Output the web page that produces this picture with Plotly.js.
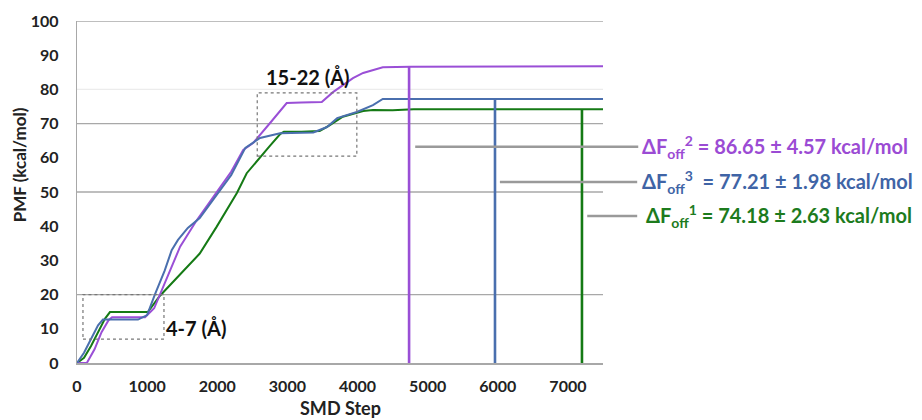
<!DOCTYPE html>
<html>
<head>
<meta charset="utf-8">
<script src="https://cdn.plot.ly/plotly-3.0.1.min.js"></script>
<style>html,body{margin:0;padding:0;background:#fff;}#chart{width:922px;height:420px;}</style>
</head>
<body>
<div id="chart"></div>
<script>
// ---- data ----
const greenX = [0, 100, 200, 300, 400, 470, 700, 1010, 1180, 1400, 1750, 1990, 2280, 2420, 2600, 2750, 2900, 2950, 3200, 3460, 3600, 3790, 4080, 4220, 4500, 4800, 6000, 7500];
const greenY = [0, 1.5, 5, 9, 13, 14.9, 14.9, 14.9, 19.6, 24.5, 32, 39.8, 49.7, 55.5, 60, 63.5, 67, 67.6, 67.6, 67.8, 69.5, 72, 73.7, 74, 73.9, 74.18, 74.18, 74.18];

const purpleX = [0, 140, 250, 350, 450, 500, 700, 970, 1100, 1180, 1470, 1700, 1990, 2200, 2370, 2510, 2750, 2990, 3200, 3490, 3650, 3935, 4080, 4360, 4750, 5500, 6500, 7500];
const purpleY = [0, 0, 4, 9, 12.5, 13.4, 13.4, 13.4, 16, 20, 34, 41.5, 49.7, 56, 62.3, 64.3, 70.1, 76, 76.2, 76.3, 79.2, 83.3, 84.8, 86.5, 86.65, 86.65, 86.8, 86.8];

const blueX = [0, 100, 200, 300, 370, 500, 700, 870, 1000, 1110, 1250, 1350, 1440, 1580, 1750, 1970, 2200, 2400, 2610, 2895, 3100, 3370, 3565, 3710, 3990, 4220, 4360, 4500, 5000, 6000, 7000, 7500];
const blueY = [0, 3, 7, 11, 12.7, 12.7, 12.7, 12.7, 14, 20, 27, 33, 36, 39.5, 42.4, 48.5, 55, 62.9, 65.8, 67.2, 67.2, 67.4, 69, 71.6, 73.4, 75.4, 77.2, 77.2, 77.2, 77.2, 77.2, 77.2];

// final-value markers (vertical lines) : step position and ΔF value
const dropSteps = [7200, 4735, 5960];          // series 1 (green), 2 (purple), 3 (blue)
const dropValues = [74.18, 86.65, 77.21];

const labelTexts = [
  'ΔF<sub>off</sub><sup>1</sup> = 74.18 ± 2.63 kcal/mol',
  'ΔF<sub>off</sub><sup>2</sup> = 86.65 ± 4.57 kcal/mol',
  'ΔF<sub>off</sub><sup>3</sup>  = 77.21 ± 1.98 kcal/mol'
];

const yTicks = [0, 10, 20, 30, 40, 50, 60, 70, 80, 90, 100];
const xTicks = [0, 1000, 2000, 3000, 4000, 5000, 6000, 7000];
const gridValues = [20, 50, 70, 100];
const faintGridValues = [80];

// ---- styles ----
const cGreen = '#157a15', cPurple = '#9a4fd6', cBlue = '#4a6fae';
const tGreen = '#1d7b1d', tPurple = '#9b4bd4', tBlue = '#3f64a6';
const FONT = 'Lato, "Open Sans", "DejaVu Sans", sans-serif';

const traces = [
  {x: greenX, y: greenY, mode: 'lines', line: {color: cGreen, width: 2}},
  {x: purpleX, y: purpleY, mode: 'lines', line: {color: cPurple, width: 2}},
  {x: blueX, y: blueY, mode: 'lines', line: {color: cBlue, width: 2}},
];
const dropColors = [cGreen, cPurple, cBlue];
dropSteps.forEach((s, i) => {
  traces.push({x: [s, s], y: [0, dropValues[i]], mode: 'lines', line: {color: dropColors[i], width: 2.6}});
});

const shapes = [];
gridValues.forEach(v => shapes.push({type: 'line', xref: 'paper', yref: 'y', x0: 0, x1: 1, y0: v, y1: v, line: {color: '#a8a8a8', width: 1.3}, layer: 'below'}));
faintGridValues.forEach(v => shapes.push({type: 'line', xref: 'paper', yref: 'y', x0: 0, x1: 1, y0: v, y1: v, line: {color: '#ececec', width: 1.3}, layer: 'below'}));
// dotted boxes
shapes.push({type: 'rect', xref: 'x', yref: 'y', x0: 85, x1: 1240, y0: 7, y1: 20, line: {color: '#777', width: 1.2, dash: 'dot'}});
shapes.push({type: 'rect', xref: 'x', yref: 'y', x0: 2570, x1: 3990, y0: 60.5, y1: 79, line: {color: '#777', width: 1.2, dash: 'dot'}});
// leader lines (paper coords)
const leaders = [
  {x0: 0.970, x1: 1.065, y: 0.430},
  {x0: 0.643, x1: 1.067, y: 0.632},
  {x0: 0.804, x1: 1.065, y: 0.529}
];
leaders.forEach(l => shapes.push({type: 'line', xref: 'paper', yref: 'paper', x0: l.x0, x1: l.x1, y0: l.y, y1: l.y, line: {color: '#9a9a9a', width: 2.5}}));

const labelColors = [tGreen, tPurple, tBlue];
const labelX = [1.077, 1.070, 1.070];
const annotations = labelTexts.map((t, i) => ({
  xref: 'paper', yref: 'paper', x: labelX[i], y: leaders[i].y, xanchor: 'left', yanchor: 'middle',
  text: t, showarrow: false, font: {family: FONT, size: 20, color: labelColors[i], weight: 700}
}));
annotations.push({xref: 'x', yref: 'y', x: 1240, y: 10.3, xanchor: 'left', yanchor: 'middle', text: '4-7 (Å)', showarrow: false, font: {family: FONT, size: 20, color: '#111', weight: 700}});
annotations.push({xref: 'x', yref: 'y', x: 3290, y: 83.6, xanchor: 'center', yanchor: 'middle', text: '15-22 (Å)', showarrow: false, font: {family: FONT, size: 20, color: '#111', weight: 700}});
annotations.push({xref: 'paper', yref: 'paper', x: 0.5, y: -0.131, xanchor: 'center', yanchor: 'middle', text: 'SMD Step', showarrow: false, font: {family: FONT, size: 18, color: '#222', weight: 700}});
annotations.push({xref: 'paper', yref: 'paper', x: -0.109, y: 0.58, xanchor: 'center', yanchor: 'middle', textangle: -90, text: 'PMF (kcal/mol)', showarrow: false, font: {family: FONT, size: 17, color: '#222', weight: 700}});

const layout = {
  width: 922, height: 420,
  margin: {l: 77, r: 319, t: 21, b: 57},
  paper_bgcolor: '#fff', plot_bgcolor: '#fff',
  showlegend: false,
  xaxis: {range: [0, 7500], tickvals: xTicks, ticktext: xTicks.map(String), showgrid: false, zeroline: false,
          showline: true, linecolor: '#a8a8a8', linewidth: 1.5, ticks: '', ticklabelstandoff: 8,
          tickfont: {family: FONT, size: 16, color: '#222', weight: 700}},
  yaxis: {range: [0, 100], tickvals: yTicks, ticktext: yTicks.map(String), showgrid: false, zeroline: false,
          showline: true, linecolor: '#a8a8a8', linewidth: 1.3, ticks: '', ticklabelstandoff: 14,
          tickfont: {family: FONT, size: 16, color: '#222', weight: 700}},
  shapes: shapes,
  annotations: annotations
};

Plotly.newPlot('chart', traces, layout, {staticPlot: true, displayModeBar: false});
</script>
</body>
</html>
